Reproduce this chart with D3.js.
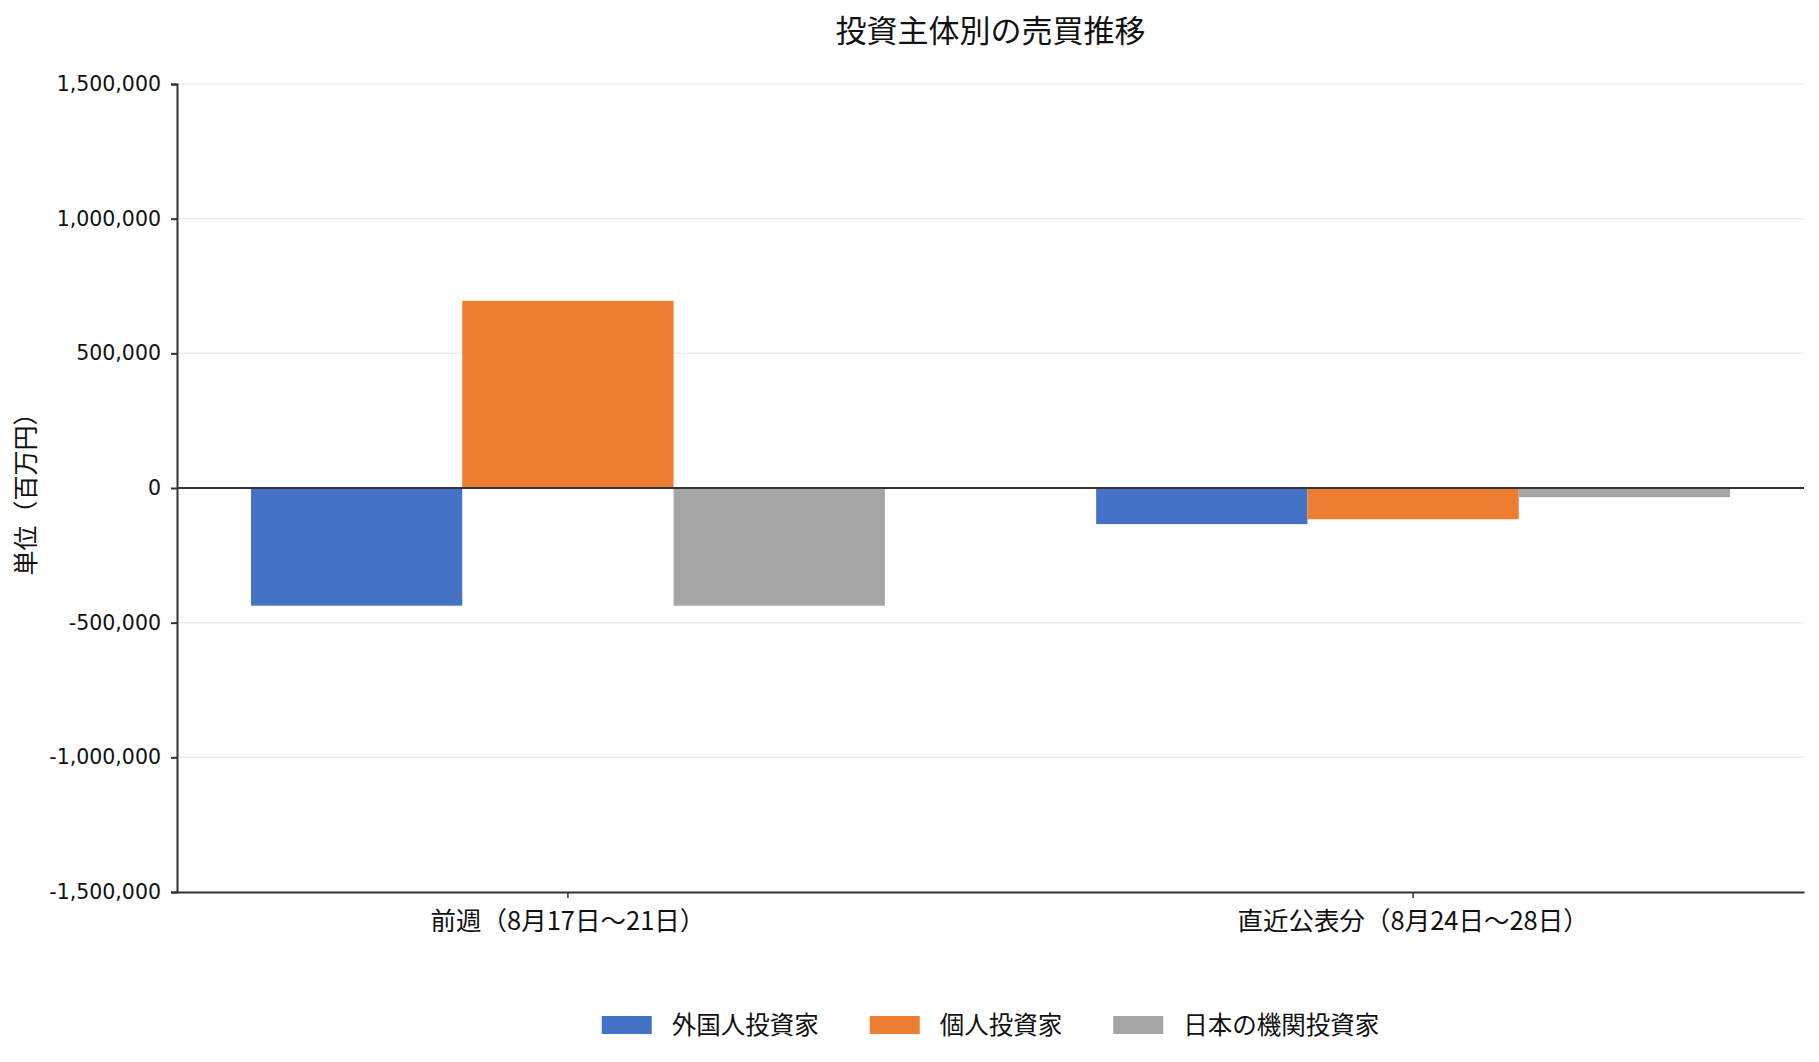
<!DOCTYPE html>
<html>
<head>
<meta charset="utf-8">
<script src="https://cdn.jsdelivr.net/npm/d3@7"></script>
<style>
  body { margin: 0; background: #fff; }
  text { font-family: "Noto Sans CJK JP", "DejaVu Sans", sans-serif; fill: #111; }
  .tick-num text { font-family: "DejaVu Sans", sans-serif; }
</style>
</head>
<body>
<svg id="chart"></svg>
<script>
const categories = ['前週（8月17日～21日）', '直近公表分（8月24日～28日）'];
const seriesNames = ['外国人投資家', '個人投資家', '日本の機関投資家'];
const foreignValues = [-437000, -134000];
const individualValues = [695000, -116000];
const institutionValues = [-437000, -34000];
const yTickValues = [-1500000, -1000000, -500000, 0, 500000, 1000000, 1500000];
const seriesColors = ['#4472C4', '#ED7D31', '#A5A5A5'];

const svgWidth = 1819, svgHeight = 1062;
const margin = {top: 84, right: 15, bottom: 170, left: 177};
const width = svgWidth - margin.left - margin.right;
const height = svgHeight - margin.top - margin.bottom;

const seriesValues = [foreignValues, individualValues, institutionValues];
const rows = categories.flatMap((c, i) =>
    seriesNames.map((s, j) => ({category: c, series: s, value: seriesValues[j][i]})));

const svg = d3.select('#chart')
    .attr('width', svgWidth)
    .attr('height', svgHeight);

const g = svg.append('g')
    .attr('transform', `translate(${margin.left},${margin.top})`);

const x = d3.scaleBand()
    .domain(categories)
    .range([0, width])
    .paddingInner(0.25)
    .paddingOuter(0.0875);

const xSeries = d3.scaleBand()
    .domain(seriesNames)
    .range([0, x.bandwidth()]);

const y = d3.scaleLinear()
    .domain([-1500000, 1500000])
    .range([height, 0]);

const color = d3.scaleOrdinal()
    .domain(seriesNames)
    .range(seriesColors);

const numFormat = d => d3.format(',')(d).replace('−', '-');

// grid
g.selectAll('.grid')
    .data(yTickValues.filter(d => d !== -1500000))
    .join('line')
    .attr('class', 'grid')
    .attr('x1', 0)
    .attr('x2', width)
    .attr('y1', d => y(d))
    .attr('y2', d => y(d))
    .attr('stroke', '#ececec')
    .attr('stroke-width', 1.5);

// bars
g.selectAll('.bar')
    .data(rows)
    .join('rect')
    .attr('class', 'bar')
    .attr('x', d => x(d.category) + xSeries(d.series))
    .attr('width', xSeries.bandwidth())
    .attr('y', d => y(Math.max(0, d.value)))
    .attr('height', d => Math.abs(y(d.value) - y(0)))
    .attr('fill', d => color(d.series));

// zero line
g.append('line')
    .attr('x1', 0)
    .attr('x2', width)
    .attr('y1', y(0))
    .attr('y2', y(0))
    .attr('stroke', '#333')
    .attr('stroke-width', 2);

// y axis
const yAxis = g.append('g')
    .attr('class', 'tick-num')
    .call(d3.axisLeft(y)
        .tickValues(yTickValues)
        .tickFormat(numFormat)
        .tickSize(6)
        .tickPadding(10));
yAxis.select('.domain').attr('stroke', '#333').attr('stroke-width', 2);
yAxis.selectAll('.tick line').attr('stroke', '#333').attr('stroke-width', 2);
yAxis.selectAll('.tick text').attr('font-size', '20.5px').style('fill', '#111');

// x axis
const xAxis = g.append('g')
    .attr('transform', `translate(0,${height})`)
    .call(d3.axisBottom(x).tickSize(6).tickPadding(14).tickSizeOuter(0));
xAxis.select('.domain').attr('stroke', '#333').attr('stroke-width', 2);
xAxis.selectAll('.tick line').attr('stroke', '#333').attr('stroke-width', 1.5);
xAxis.selectAll('.tick text')
    .attr('font-size', '25.5px')
    .attr('font-family', '"Noto Sans CJK JP", sans-serif')
    .style('fill', '#111');

// title
svg.append('text')
    .attr('x', margin.left + width / 2)
    .attr('y', 42)
    .attr('text-anchor', 'middle')
    .attr('font-size', '31px')
    .text('投資主体別の売買推移');

// y title
svg.append('text')
    .attr('transform', `translate(35,${margin.top + height / 2}) rotate(-90)`)
    .attr('text-anchor', 'middle')
    .attr('font-size', '25px')
    .text('単位（百万円）');

// legend
const legend = svg.append('g').attr('class', 'legend');
const items = legend.selectAll('.item')
    .data(seriesNames)
    .join('g')
    .attr('class', 'item');
items.append('rect')
    .attr('width', 50)
    .attr('height', 18)
    .attr('y', -9)
    .attr('fill', d => color(d));
items.append('text')
    .attr('x', 70)
    .attr('y', 0)
    .attr('dy', '0.35em')
    .attr('font-size', '24.5px')
    .text(d => d);

let offset = 0;
items.each(function() {
    const w = this.getBBox().width;
    d3.select(this).attr('transform', `translate(${offset},0)`);
    offset += w + 51;
});
const legendWidth = offset - 51;
legend.attr('transform', `translate(${margin.left + width / 2 - legendWidth / 2},1025)`);
</script>
</body>
</html>
